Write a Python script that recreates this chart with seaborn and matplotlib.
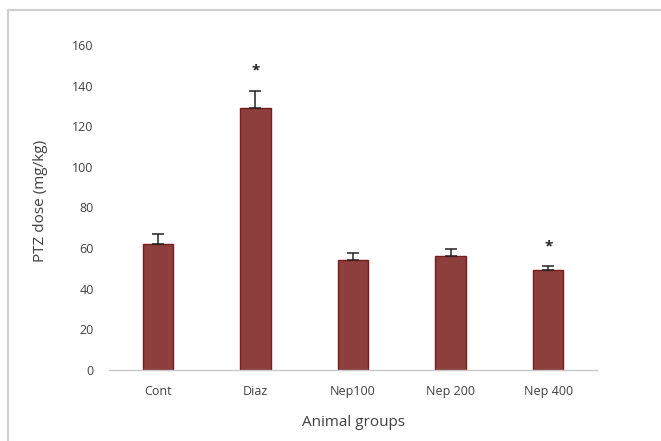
import numpy as np
import pandas as pd
import seaborn as sns
import matplotlib.pyplot as plt
from matplotlib.patches import Rectangle

# values
groups = ["Cont", "Diaz", "Nep100", "Nep 200", "Nep 400"]
means = [62, 129, 54, 56, 49]
sem = [5, 8.5, 3.5, 3.5, 2]
signif = [False, True, False, False, True]

df = pd.DataFrame({"Group": groups, "Dose": means})

sns.set_style("white")
plt.rcParams['font.family'] = ['Open Sans', 'DejaVu Sans']

fig = plt.figure(figsize=(6.61, 4.41), dpi=100)
ax = fig.add_axes([109 / 661, 1 - 370 / 441, (597 - 109) / 661, (370 - 45) / 441])

sns.barplot(data=df, x="Group", y="Dose", order=groups, color="#8c3f3d",
            width=0.31, errorbar=None, saturation=1,
            edgecolor="#7a1c1c", linewidth=1, ax=ax)

x = np.arange(len(groups))
ax.errorbar(x, means, yerr=[np.zeros(len(sem)), sem], fmt="none",
            ecolor="#222222", elinewidth=1.1, capsize=4.5, capthick=1.1)

for i, s in enumerate(signif):
    if s:
        ax.text(i, means[i] + sem[i] + 10, "*", ha="center", va="center",
                fontsize=11, fontweight="bold", color="#222222")

ax.set_ylim(0, 160)
ax.set_xlim(-0.5, len(groups) - 0.5)
ax.set_yticks(range(0, 161, 20))
ax.tick_params(axis="both", length=0, labelsize=9, labelcolor="#404040")
ax.tick_params(axis="x", pad=11)
ax.tick_params(axis="y", pad=11)

sns.despine(ax=ax, left=True, top=True, right=True)
ax.spines["bottom"].set_color("#c8c8c8")
ax.spines["bottom"].set_linewidth(1)

ax.set_xlabel("Animal groups", fontsize=11, color="#404040", labelpad=12)
ax.set_ylabel("PTZ dose (mg/kg)", fontsize=11, color="#404040")
ax.yaxis.set_label_coords(-0.125, 0.52)

# light frame around the chart
fig.patches.append(Rectangle((8 / 661, -0.02), 1.0, 1 - 10 / 441 + 0.02,
                             transform=fig.transFigure, fill=False,
                             edgecolor="#cfcfcf", linewidth=1.5))

fig.savefig("out.png", dpi=100)
